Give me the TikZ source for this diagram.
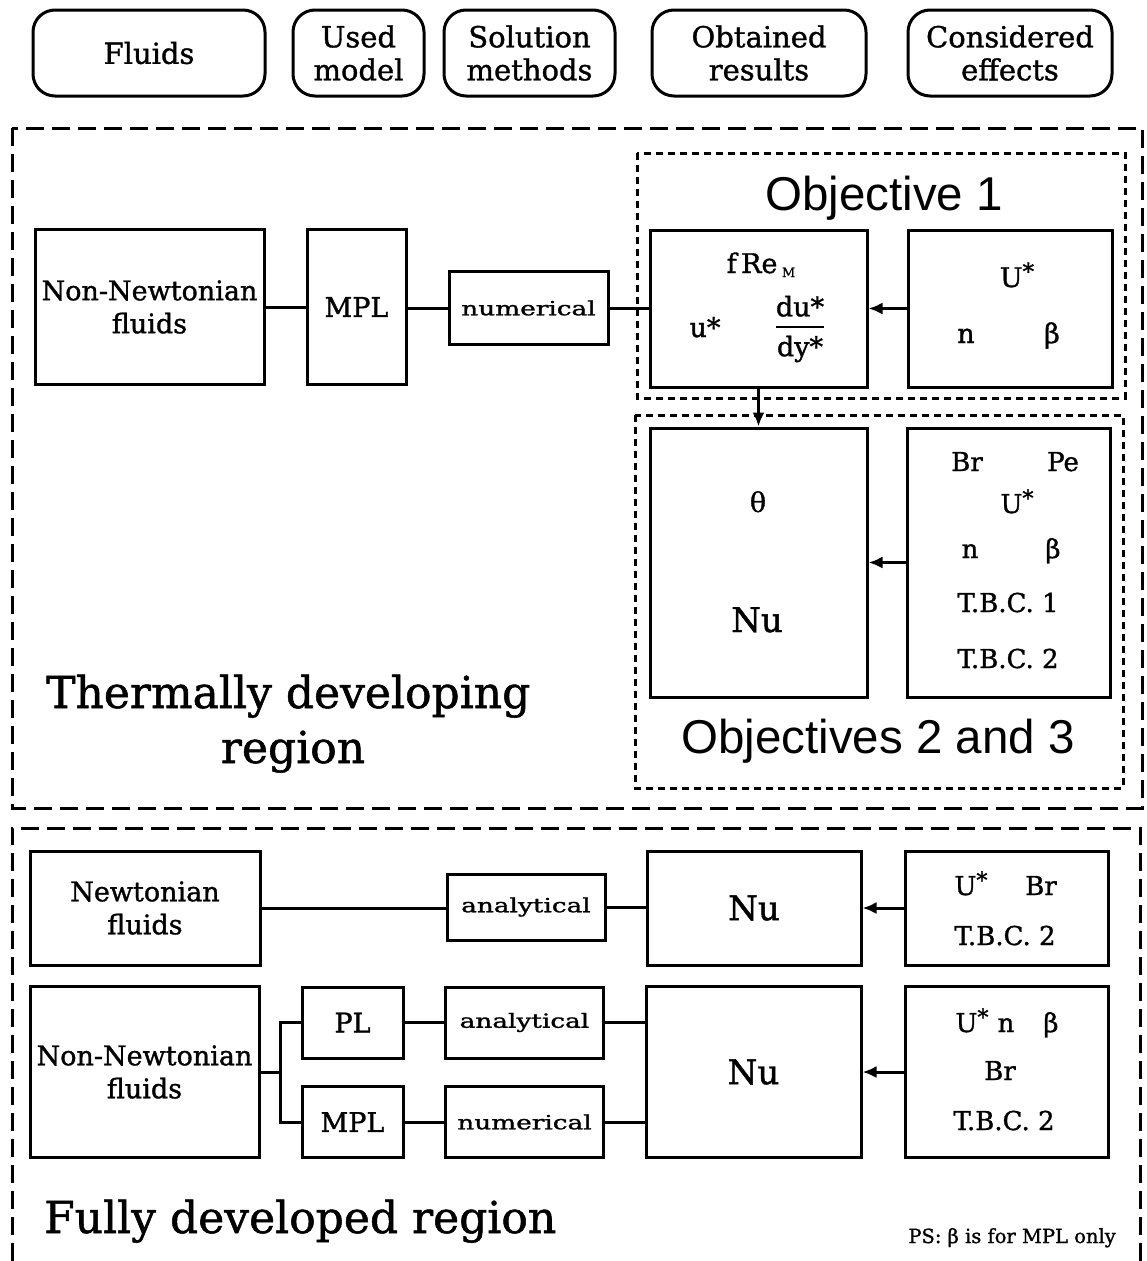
\documentclass[tikz,border=0pt]{standalone}
\usepackage{fontspec}
\setmainfont{DejaVu Serif}[FakeBold=1.2]
\newfontfamily\helv{Liberation Sans}
\usepackage{amsmath}
\usepackage{graphicx}
\usetikzlibrary{arrows.meta}
\newcommand\bxfont{\fontsize{27}{33}\selectfont}
\newcommand\hdfont{\fontsize{29}{33}\selectfont}
\newcommand\effont{\fontsize{26}{30}\selectfont}
\newcommand\nufont{\fontsize{34}{38}\selectfont}
\newcommand\smfont{\fontsize{19.5}{22}\selectfont}
\newcommand\bigfont{\fontsize{44}{55}\selectfont}
\newcommand\objfont{\helv\fontsize{47.5}{50}\selectfont}
\newcommand\wide[1]{\scalebox{1.35}[1]{#1}}
\newcommand\Ust{U\raisebox{0.28em}{\scalebox{0.85}{*}}}
\begin{document}
\begin{tikzpicture}[x=1pt,y=-1pt,
  box/.style={draw, line width=3pt, inner sep=0pt, align=center, font=\bxfont},
  hbox/.style={draw, line width=3pt, inner sep=0pt, rounded corners=22pt, align=center, font=\hdfont, minimum height=86pt},
  smbox/.style={draw, line width=3pt, inner sep=0pt, align=center, font=\smfont},
  lbl/.style={inner sep=0pt, anchor=base, font=\effont},
  conn/.style={line width=3pt},
  arr/.style={line width=3pt, -{Latex[length=14pt,width=12pt]}},
  region/.style={line width=3pt, dash pattern=on 18pt off 8pt},
  objbox/.style={line width=3pt, dash pattern=on 7pt off 5pt},
  bigtext/.style={inner sep=0pt, font=\bigfont},
  objtext/.style={inner sep=0pt, anchor=base, font=\objfont}
]
\useasboundingbox (0,0) rectangle (1146,1261);

% header
\node[hbox, minimum width=232pt] (hf) at (149,53) {Fluids};
\node[hbox, minimum width=131pt] (hu) at (358.5,53) {Used\\model};
\node[hbox, minimum width=171pt] (hs) at (529.5,53) {Solution\\methods};
\node[hbox, minimum width=214pt] (ho) at (759,53) {Obtained\\results};
\node[hbox, minimum width=204pt] (hc) at (1010,53) {Considered\\effects};

% thermally developing region
\draw[region] (12,128) rectangle (1142,808);
\draw[objbox] (637,153) rectangle (1125,398);
\draw[objbox] (635,415) rectangle (1123,788);

\node[box, minimum width=229pt, minimum height=155pt] (tNN) at (149.5,307) {Non-Newtonian\\fluids};
\node[box, minimum width=99pt, minimum height=155pt] (tMPL) at (356.5,307) {MPL};
\node[smbox, minimum width=159pt, minimum height=73pt] (tNum) at (528.5,308) {\wide{numerical}};
\node[box, minimum width=217pt, minimum height=157pt] (tRes) at (758.5,308.5) {};
\node[box, minimum width=204pt, minimum height=157pt] (tEff) at (1010,308.5) {};
\node[box, minimum width=217pt, minimum height=269pt] (tNu) at (758.5,562.5) {};
\node[box, minimum width=203pt, minimum height=269pt] (tEff2) at (1008.5,562.5) {};

\node[objtext] (o1) at (884,210) {Objective 1};
\node[objtext] (o23) at (878,753) {Objectives 2 and 3};

% results labels
\node[lbl, font=\bxfont] (fre) at (761,273) {f\,Re\,\raisebox{-4pt}{\fontsize{13}{13}\selectfont M}};
\node[lbl, font=\bxfont] (us) at (705,337) {u*};
\node[inner sep=0pt, font=\bxfont] (dudy) at (800,329) {$\genfrac{}{}{2.5pt}{0}{\text{du*}}{\text{dy*}}$};
\node[lbl, font=\bxfont] (U1) at (1017,287) {\Ust};
\node[lbl, font=\bxfont] (n1) at (966,343) {n};
\node[lbl, font=\bxfont] (b1) at (1052,343) {β};

\node[lbl, font=\bxfont] (th) at (758,512) {θ};
\node[lbl, font=\nufont] (nu1) at (757,632) {Nu};
\node[lbl] (br2) at (967,471) {Br};
\node[lbl] (pe2) at (1063,471) {Pe};
\node[lbl] (U2) at (1017,513) {\Ust};
\node[lbl] (n2) at (970,558) {n};
\node[lbl] (b2) at (1053,558) {β};
\node[lbl] (tbc1) at (1008,612) {T.B.C. 1};
\node[lbl] (tbc2) at (1008,668) {T.B.C. 2};

\node[bigtext, anchor=base west] (tdr1) at (46,708) {Thermally developing};
\node[bigtext, anchor=base] (tdr2) at (293,763) {region};

% connectors top
\draw[conn] (tNN.east) -- (tMPL.west);
\draw[conn] (tMPL.east |- tNum.west) -- (tNum.west);
\draw[conn] (tNum.east) -- (tNum.east -| tRes.west);
\draw[arr] (tEff.west) -- (tEff.west -| tRes.east);
\draw[arr] (tRes.south) -- (tRes.south |- tNu.north);
\draw[arr] (tEff2.west) -- (tEff2.west -| tNu.east);

% fully developed region
\draw[region] (12,1261) -- (12,828) -- (1140,828) -- (1140,1261);

\node[box, minimum width=230pt, minimum height=114pt] (bN) at (145,908) {Newtonian\\fluids};
\node[smbox, minimum width=158pt, minimum height=66pt] (bAn1) at (526,907) {\wide{analytical}};
\node[box, minimum width=214pt, minimum height=114pt, font=\nufont] (bNu1) at (754,908) {Nu};
\node[box, minimum width=203pt, minimum height=114pt] (bEff1) at (1006.5,908) {};

\node[box, minimum width=229pt, minimum height=171pt] (bNN) at (144.5,1072) {Non-Newtonian\\fluids};
\node[box, minimum width=101pt, minimum height=71pt] (bPL) at (352.5,1022.5) {PL};
\node[box, minimum width=101pt, minimum height=71pt] (bMPL) at (352.5,1122) {MPL};
\node[smbox, minimum width=158pt, minimum height=71pt] (bAn2) at (524.5,1022.5) {\wide{analytical}};
\node[smbox, minimum width=158pt, minimum height=71pt] (bNum) at (524.5,1122) {\wide{numerical}};
\node[box, minimum width=215pt, minimum height=171pt, font=\nufont] (bNu2) at (753.5,1072) {Nu};
\node[box, minimum width=203pt, minimum height=171pt] (bEff2) at (1006.5,1072) {};

\node[lbl] (U3) at (971,895) {\Ust};
\node[lbl] (br3) at (1041,895) {Br};
\node[lbl] (tbc3) at (1005,945) {T.B.C. 2};
\node[lbl] (U4) at (972,1032) {\Ust};
\node[lbl] (n4) at (1006,1032) {n};
\node[lbl] (b4) at (1051,1032) {β};
\node[lbl] (br4) at (1000,1080) {Br};
\node[lbl] (tbc4) at (1004,1130) {T.B.C. 2};

\node[bigtext, anchor=base west] (fdr) at (44,1233) {Fully developed region};
\node[inner sep=0pt, anchor=base east, font=\smfont] (ps) at (1116,1243) {PS: β is for MPL only};

\coordinate (jn) at (280,1072);
\draw[conn] (bN.east) -- (bN.east -| bAn1.west);
\draw[conn] (bAn1.east) -- (bAn1.east -| bNu1.west);
\draw[arr] (bEff1.west) -- (bEff1.west -| bNu1.east);
\draw[conn] (bNN.east) -- (jn);
\draw[conn] (bPL.west) -| (jn) |- (bMPL.west);
\draw[conn] (bPL.east) -- (bAn2.west);
\draw[conn] (bMPL.east) -- (bNum.west);
\draw[conn] (bAn2.east) -- (bAn2.east -| bNu2.west);
\draw[conn] (bNum.east) -- (bNum.east -| bNu2.west);
\draw[arr] (bEff2.west) -- (bEff2.west -| bNu2.east);
\end{tikzpicture}
\end{document}
